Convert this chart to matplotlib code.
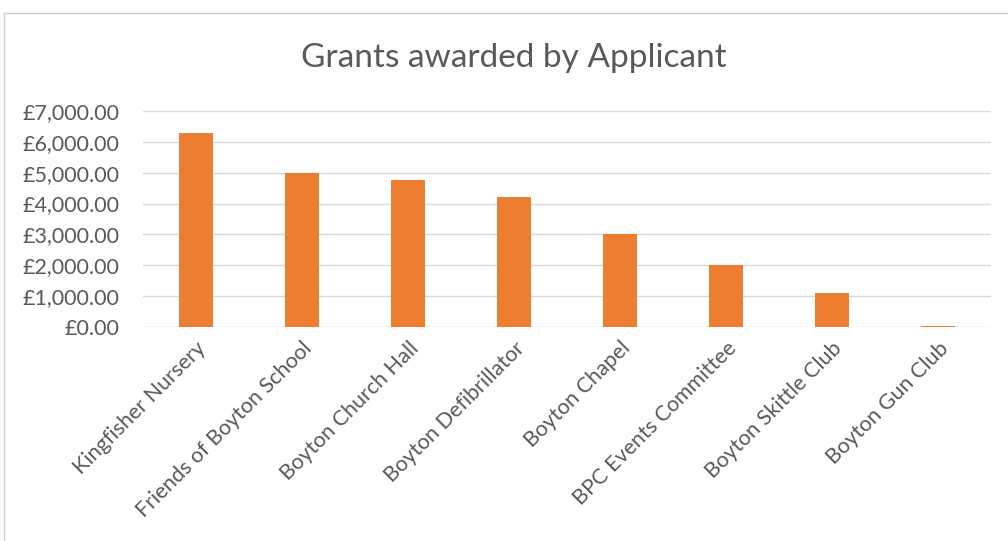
import matplotlib.pyplot as plt
from matplotlib.lines import Line2D
from matplotlib.ticker import FuncFormatter

# data
applicants = ["Kingfisher Nursery", "Friends of Boyton School", "Boyton Church Hall",
              "Boyton Defibrillator", "Boyton Chapel", "BPC Events Committee",
              "Boyton Skittle Club", "Boyton Gun Club"]
grants = [6300, 5000, 4750, 4200, 3000, 2000, 1100, 25]
y_ticks = [0, 1000, 2000, 3000, 4000, 5000, 6000, 7000]

txt = '#595959'
plt.rcParams['font.family'] = ['Lato', 'DejaVu Sans']

fig = plt.figure(figsize=(10.08, 5.41), dpi=100)
ax = fig.add_axes([0.1419, 0.3956, 0.8413, 0.3992])

x = range(len(applicants))
ax.bar(x, grants, width=0.32, color='#ED7D31', zorder=3)

ax.set_xlim(-0.5, len(applicants) - 0.5)
ax.set_ylim(0, 7000)
ax.set_yticks(y_ticks)
ax.yaxis.set_major_formatter(FuncFormatter(lambda v, p: '£{:,.2f}'.format(v)))
ax.grid(axis='y', color='#d9d9d9', lw=1, zorder=0)
ax.set_xticks(list(x))
ax.set_xticklabels(applicants, rotation=45, ha='right', rotation_mode='anchor')
for s in ax.spines.values():
    s.set_visible(False)
ax.tick_params(axis='both', length=0, labelsize=15.5, colors=txt)
ax.tick_params(axis='y', pad=17)
ax.tick_params(axis='x', pad=8)

fig.text(0.51, 0.893, "Grants awarded by Applicant", ha='center', va='center',
         fontsize=24, color=txt)

# chart border (top & left visible)
fig.add_artist(Line2D([0.004, 1.0], [1 - 13 / 541, 1 - 13 / 541], color='#d0d0d0', lw=1))
fig.add_artist(Line2D([0.004, 0.004], [0, 1 - 13 / 541], color='#d0d0d0', lw=1))

fig.savefig('out.png', dpi=100)
